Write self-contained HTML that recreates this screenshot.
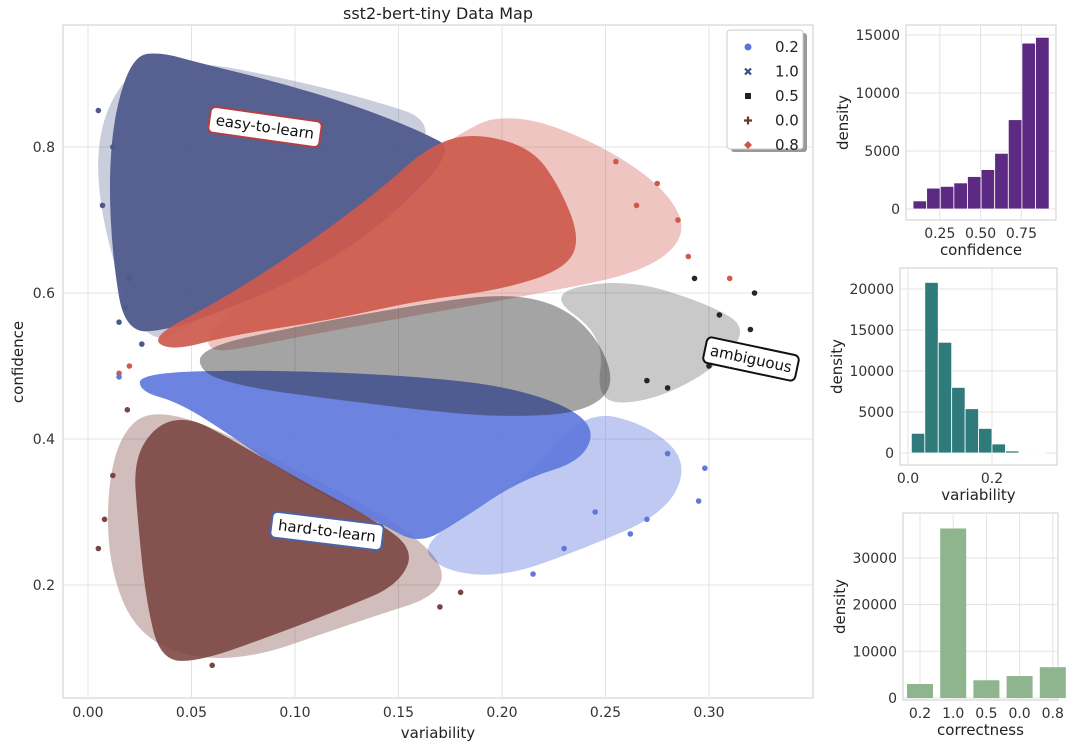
<!DOCTYPE html>
<html><head><meta charset="utf-8">
<style>
html,body{margin:0;padding:0;background:#fff;}
svg{display:block;font-family:"DejaVu Sans","Liberation Sans",sans-serif;}
</style></head>
<body>
<svg id="root" width="1080" height="752" viewBox="0 0 1080 752"></svg>
<script>
// ---------- main scatter data (cloud outlines in data coords: [variability, confidence]) ----------
const easyCore = [[0.022,0.925],[0.035,0.93],[0.054,0.915],[0.093,0.888],[0.131,0.855],[0.162,0.82],[0.178,0.795],[0.141,0.69],[0.102,0.62],[0.069,0.58],[0.040,0.55],[0.018,0.545],[0.012,0.645],[0.010,0.755],[0.013,0.851]];
const easyHalo = [[0.006,0.85],[0.03,0.93],[0.12,0.88],[0.185,0.82],[0.05,0.55],[0.025,0.53],[0.004,0.72]];
const easyOutliers = [[0.005,0.85],[0.007,0.72],[0.012,0.80],[0.015,0.56],[0.02,0.62],[0.026,0.53],[0.018,0.58]];
const redCore = [[0.164,0.80],[0.185,0.82],[0.214,0.80],[0.228,0.745],[0.238,0.673],[0.23,0.632],[0.199,0.604],[0.160,0.590],[0.117,0.563],[0.069,0.542],[0.040,0.52],[0.030,0.54],[0.064,0.590],[0.102,0.659],[0.141,0.741]];
const redHalo = [[0.18,0.83],[0.21,0.845],[0.25,0.80],[0.28,0.74],[0.29,0.68],[0.27,0.63],[0.22,0.60],[0.12,0.55],[0.03,0.50]];
const redOutliers = [[0.31,0.62],[0.29,0.65],[0.285,0.70],[0.275,0.75],[0.265,0.72],[0.015,0.49],[0.02,0.50],[0.255,0.78]];
const blueCore = [[0.025,0.49],[0.078,0.495],[0.151,0.488],[0.209,0.47],[0.245,0.426],[0.24,0.371],[0.209,0.344],[0.180,0.289],[0.160,0.255],[0.141,0.285],[0.102,0.34],[0.069,0.405],[0.044,0.45],[0.025,0.465]];
const blueHalo = [[0.24,0.44],[0.27,0.42],[0.29,0.37],[0.28,0.30],[0.24,0.25],[0.20,0.21],[0.17,0.22],[0.16,0.26],[0.21,0.34]];
const blueOutliers = [[0.298,0.36],[0.295,0.315],[0.27,0.29],[0.262,0.27],[0.245,0.30],[0.215,0.215],[0.23,0.25],[0.015,0.485],[0.28,0.38]];
const blackCore = [[0.054,0.525],[0.102,0.555],[0.151,0.58],[0.199,0.60],[0.228,0.585],[0.247,0.536],[0.255,0.47],[0.238,0.435],[0.199,0.43],[0.160,0.44],[0.117,0.455],[0.078,0.47],[0.054,0.49]];
const blackHalo = [[0.22,0.60],[0.26,0.62],[0.30,0.585],[0.32,0.55],[0.30,0.49],[0.27,0.45],[0.245,0.45],[0.25,0.54]];
const blackOutliers = [[0.32,0.55],[0.322,0.60],[0.293,0.62],[0.31,0.52],[0.30,0.50],[0.28,0.47],[0.305,0.57],[0.27,0.48]];
const hardCore = [[0.033,0.42],[0.049,0.43],[0.069,0.40],[0.102,0.345],[0.135,0.295],[0.158,0.25],[0.15,0.20],[0.125,0.17],[0.093,0.135],[0.054,0.095],[0.035,0.097],[0.028,0.179],[0.024,0.289],[0.022,0.371]];
const hardHalo = [[0.012,0.40],[0.035,0.45],[0.10,0.36],[0.165,0.26],[0.175,0.19],[0.13,0.15],[0.07,0.09],[0.025,0.12],[0.008,0.24]];
const hardOutliers = [[0.005,0.25],[0.008,0.29],[0.18,0.19],[0.17,0.17],[0.06,0.09],[0.012,0.35],[0.019,0.44]];
const xTicks = [0.00,0.05,0.10,0.15,0.20,0.25,0.30];
const yTicks = [0.2,0.4,0.6,0.8];
const legendLabels = ["0.2","1.0","0.5","0.0","0.8"];
// ---------- histogram data ----------
const confBinStart = 0.086, confBinWidth = 0.0834;
const confCounts = [700,1800,1950,2250,2800,3400,4800,7700,14300,14800];
const confXTicks = [0.25,0.50,0.75];
const confYTicks = [0,5000,10000,15000];
const varBinStart = 0.008, varBinWidth = 0.032;
const varCounts = [2400,20800,13500,8000,5400,3000,1100,250,40,10];
const varXTicks = [0.0,0.2];
const varYTicks = [0,5000,10000,15000,20000];
const corrCats = ["0.2","1.0","0.5","0.0","0.8"];
const corrCounts = [3000,36300,3800,4700,6600];
const corrYTicks = [0,10000,20000,30000];

const NS="http://www.w3.org/2000/svg";
const root=document.getElementById('root');
function mk(tag,attrs,parent){const e=document.createElementNS(NS,tag);for(const k in attrs)e.setAttribute(k,attrs[k]);(parent||root).appendChild(e);return e;}
function txt(s,attrs,parent){const e=mk('text',attrs,parent);e.textContent=s;return e;}

const MX0=63,MX1=813,MY0=25,MY1=698;
const sx=v=>88+v*(709-88)/0.30;
const sy=v=>585-(v-0.2)*(585-147)/0.6;
const frame=mk('rect',{x:MX0,y:MY0,width:MX1-MX0,height:MY1-MY0,fill:'#fff',stroke:'#ccc','stroke-width':1});


xTicks.forEach(t=>{
  const l=mk('line',{x1:sx(t),x2:sx(t),y1:MY0,y2:MY1,stroke:'#e3e3e3'});
  
  
  const tx=txt(t.toFixed(2),{x:sx(t),y:MY1+19,'text-anchor':'middle','font-size':14,fill:'#333'});
  
  
});
yTicks.forEach(t=>{
  const l=mk('line',{x1:MX0,x2:MX1,y1:sy(t),y2:sy(t),stroke:'#e3e3e3'});
  
  
  const tx=txt(t.toFixed(1),{x:MX0-8,y:sy(t)+5,'text-anchor':'end','font-size':14,fill:'#333'});
  
  
});
function curve(pts){
  const P=pts.map(p=>[sx(p[0]),sy(p[1])]);const n=P.length;
  const mid=(a,b)=>[(a[0]+b[0])/2,(a[1]+b[1])/2];
  let m0=mid(P[n-1],P[0]);let d='M'+m0[0].toFixed(1)+','+m0[1].toFixed(1);
  for(let i=0;i<n;i++){const m=mid(P[i],P[(i+1)%n]);d+='Q'+P[i][0].toFixed(1)+','+P[i][1].toFixed(1)+' '+m[0].toFixed(1)+','+m[1].toFixed(1);}
  return d+'Z';
}
function region(pts,color,name,op){
  const p=mk('path',{d:curve(pts),fill:color,'fill-opacity':op});
  
  
}
function outl(pts,color,name){
  pts.forEach(q=>{
    const c=mk('circle',{cx:sx(q[0]),cy:sy(q[1]),r:2.8,fill:color});
    
    
  });
}
const NAVY='#4f5a8c',RED='#cd5a4d',BLUE='#5f78dc',BLK='#262626',BRN='#7a4440';
region(easyHalo,NAVY,'easy-sparse-points',0.3);
region(redHalo,RED,'red-sparse-points',0.35);
region(blueHalo,BLUE,'blue-sparse-points',0.4);
region(hardHalo,BRN,'brown-sparse-points',0.35);
region(blackHalo,BLK,'black-sparse-points',0.25);
region(easyCore,NAVY,'easy-to-learn-points',0.95);
outl(easyOutliers,NAVY,'easy-outlier-point');
region(redCore,RED,'correctness-0.8-points',0.92);
outl(redOutliers,RED,'red-outlier-point');
region(blueCore,BLUE,'correctness-0.2-points',0.92);
outl(blueOutliers,BLUE,'blue-outlier-point');
region(hardCore,BRN,'hard-to-learn-points',0.88);
outl(hardOutliers,BRN,'brown-outlier-point');
region(blackCore,BLK,'correctness-0.5-points',0.42);
outl(blackOutliers,BLK,'black-outlier-point');

const title=txt('sst2-bert-tiny Data Map',{x:438,y:19,'text-anchor':'middle','font-size':16,fill:'#222'});


const xl=txt('variability',{x:438,y:738,'text-anchor':'middle','font-size':15,fill:'#222'});


const yl=txt('confidence',{x:0,y:0,'text-anchor':'middle','font-size':15,fill:'#222',transform:'translate(23,362) rotate(-90)'});



function ann(s,cx,cy,rot,col,name,w){
  const g=mk('g',{transform:`translate(${cx},${cy}) rotate(${rot})`});
  
  
  mk('rect',{x:-w/2,y:-13,width:w,height:26,rx:5,fill:'#fff',stroke:col,'stroke-width':2},g);
  txt(s,{x:0,y:5,'text-anchor':'middle','font-size':15,fill:'#111'},g);
}
ann('easy-to-learn',265,127,8,'#b34040','easy-to-learn-label',112);
ann('ambiguous',751,359,12,'#111','ambiguous-label',94);
ann('hard-to-learn',327,531,7,'#4a64a8','hard-to-learn-label',112);

const lg=mk('g',{});


mk('rect',{x:731,y:33,width:76,height:119,rx:3,fill:'#999'},lg);
mk('rect',{x:727,y:30,width:76,height:119,rx:3,fill:'#fff',stroke:'#ccc'},lg);
const lcols=['#5b73da','#3f4b80','#222','#6e3530','#cf5444'];
legendLabels.forEach((s,i)=>{
  const y=47+i*24.5;
  const e=mk('g',{},lg);
  
  
  const x=748;
  if(i==0) mk('circle',{cx:x,cy:y,r:3.5,fill:lcols[i]},e);
  if(i==1) mk('path',{d:`M${x-3},${y-3}L${x+3},${y+3}M${x+3},${y-3}L${x-3},${y+3}`,stroke:lcols[i],'stroke-width':2.2},e);
  if(i==2) mk('rect',{x:x-3,y:y-3,width:6,height:6,fill:lcols[i]},e);
  if(i==3) mk('path',{d:`M${x-4},${y}L${x+4},${y}M${x},${y-4}L${x},${y+4}`,stroke:lcols[i],'stroke-width':2.2},e);
  if(i==4) mk('path',{d:`M${x},${y-4}L${x+4},${y}L${x},${y+4}L${x-4},${y}Z`,fill:lcols[i]},e);
  txt(s,{x:775,y:y+5,'font-size':15,fill:'#222'},e);
});

function hist(opt){
  const g=mk('g',{});
  
  
  mk('rect',{x:opt.x0,y:opt.y0,width:opt.x1-opt.x0,height:opt.y1-opt.y0,fill:'#fff',stroke:'#ccc'},g);
  opt.yTicks.forEach(t=>{
    const y=opt.sy(t);
    mk('line',{x1:opt.x0,x2:opt.x1,y1:y,y2:y,stroke:'#e3e3e3'},g);
    const tl=txt(String(t),{x:opt.x0-6,y:y+5,'text-anchor':'end','font-size':14,fill:'#333'},g);
    
    
  });
  opt.xTicks.forEach((t,i)=>{
    const x=opt.sxT(t,i);
    mk('line',{x1:x,x2:x,y1:opt.y0,y2:opt.y1,stroke:'#e3e3e3'},g);
    const tl=txt(opt.fmt(t),{x:x,y:opt.y1+18,'text-anchor':'middle','font-size':14,fill:'#333'},g);
    
    
  });
  opt.bars(g);
  const xt=txt(opt.xlabel,{x:(opt.x0+opt.x1)/2,y:opt.y1+35,'text-anchor':'middle','font-size':15,fill:'#222'},g);
  
  
  const yt=txt('density',{x:0,y:0,'text-anchor':'middle','font-size':15,fill:'#222',transform:`translate(${opt.x0-58},${(opt.y0+opt.y1)/2}) rotate(-90)`},g);
  
  
}
{
  const sxc=v=>899+v*(40.8/0.25), syc=v=>209-v*(58/5000);
  hist({name:'confidence-histogram',x0:906,x1:1056,y0:25,y1:220,sy:syc,yTicks:confYTicks,xTicks:confXTicks,sxT:t=>sxc(t),fmt:t=>t.toFixed(2),xlabel:'confidence',
    bars:g=>confCounts.forEach((c,i)=>{const a=confBinStart+i*confBinWidth;
      const r=mk('rect',{x:sxc(a),y:syc(c),width:sxc(a+confBinWidth)-sxc(a),height:syc(0)-syc(c),fill:'#5c2a82',stroke:'#fff','stroke-width':0.8},g);
      
      })});
}
{
  const sxv=v=>908+v*(84/0.2), syv=v=>453-v*(41/5000);
  hist({name:'variability-histogram',x0:900,x1:1057,y0:268,y1:465,sy:syv,yTicks:varYTicks,xTicks:varXTicks,sxT:t=>sxv(t),fmt:t=>t.toFixed(1),xlabel:'variability',
    bars:g=>varCounts.forEach((c,i)=>{const a=varBinStart+i*varBinWidth;
      const r=mk('rect',{x:sxv(a),y:syv(c),width:sxv(a+varBinWidth)-sxv(a),height:syv(0)-syv(c),fill:'#2f7a7a',stroke:'#fff','stroke-width':0.8},g);
      
      })});
}
{
  const sxk=i=>920+i*33.2, syk=v=>698-v*(46.7/10000);
  hist({name:'correctness-histogram',x0:903,x1:1058,y0:513,y1:700,sy:syk,yTicks:corrYTicks,xTicks:corrCats,sxT:(t,i)=>sxk(i),fmt:t=>t,xlabel:'correctness',
    bars:g=>corrCounts.forEach((c,i)=>{
      const r=mk('rect',{x:sxk(i)-13,y:syk(c),width:26,height:syk(0)-syk(c),fill:'#8fb58f'},g);
      
      })});
}
</script>
</body></html>
